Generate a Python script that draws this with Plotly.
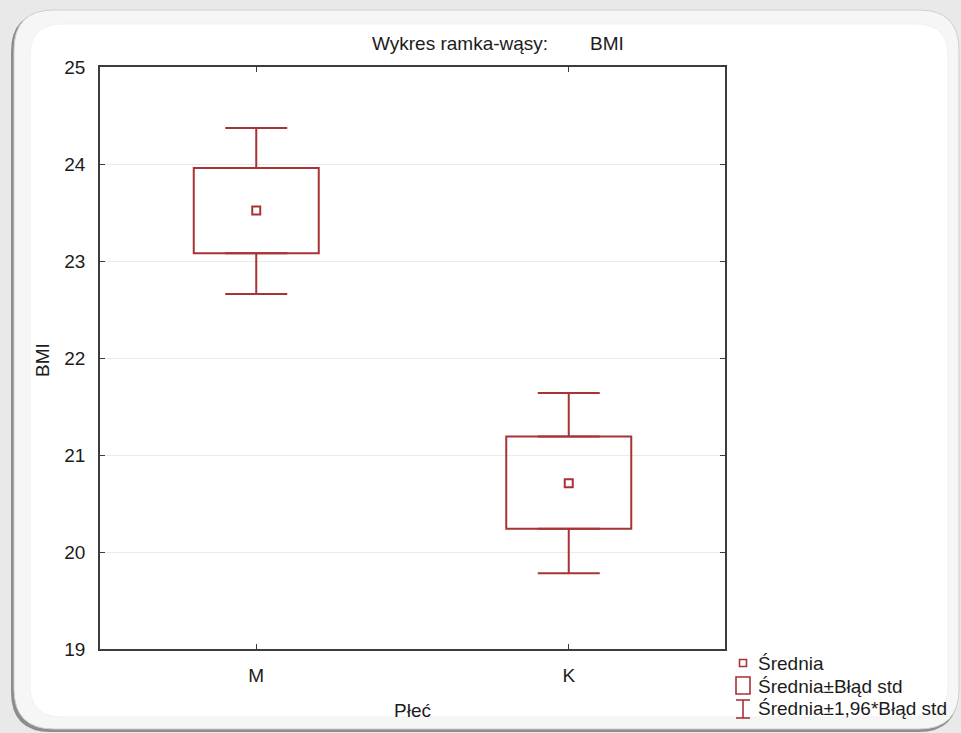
import plotly.graph_objects as go

# ---- data ----
categories = ["M", "K"]
means = [23.52, 20.71]
se_low = [23.08, 20.24]
se_high = [23.96, 21.19]
ci_low = [22.66, 19.78]
ci_high = [24.37, 21.64]
y_ticks = [19, 20, 21, 22, 23, 24, 25]
legend_labels = ["Średnia", "Średnia±Błąd std", "Średnia±1,96*Błąd std"]

RED = "#a83236"
TXT = "#1c1c1c"
FONT = "Arial, Liberation Sans, sans-serif"

W, H = 961, 733
L, R, T, B = 100, 236, 67, 84
PW, PH = W - L - R, H - T - B


def px(x):
    return (x - L) / PW


def py(y):
    return (H - B - y) / PH


xs = list(range(len(categories)))

fig = go.Figure()

# box: mean ± standard error
fig.add_trace(go.Bar(
    x=xs, base=se_low, y=[h - l for h, l in zip(se_high, se_low)],
    width=0.4, marker=dict(color="rgba(0,0,0,0)", line=dict(color=RED, width=2)),
    showlegend=False, hoverinfo="skip"))

# whiskers: mean ± 1.96*SE
fig.add_trace(go.Scatter(
    x=xs, y=se_high, mode="markers", marker=dict(size=1, opacity=0),
    error_y=dict(type="data", symmetric=False,
                 array=[c - s for c, s in zip(ci_high, se_high)],
                 arrayminus=[0] * len(xs), color=RED, thickness=2, width=31),
    showlegend=False, hoverinfo="skip"))
fig.add_trace(go.Scatter(
    x=xs, y=se_low, mode="markers", marker=dict(size=1, opacity=0),
    error_y=dict(type="data", symmetric=False, array=[0] * len(xs),
                 arrayminus=[s - c for s, c in zip(se_low, ci_low)],
                 color=RED, thickness=2, width=31),
    showlegend=False, hoverinfo="skip"))

# means
fig.add_trace(go.Scatter(
    x=xs, y=means, mode="markers",
    marker=dict(symbol="square-open", size=8, color=RED, line=dict(width=2, color=RED)),
    showlegend=False))


def rrect(x0, y0, x1, y1, r):
    pts = [
        ("M", [(x0 + r, y0)]), ("L", [(x1 - r, y0)]), ("Q", [(x1, y0), (x1, y0 + r)]),
        ("L", [(x1, y1 - r)]), ("Q", [(x1, y1), (x1 - r, y1)]),
        ("L", [(x0 + r, y1)]), ("Q", [(x0, y1), (x0, y1 - r)]),
        ("L", [(x0, y0 + r)]), ("Q", [(x0, y0), (x0 + r, y0)]),
    ]
    s = ""
    for cmd, ps in pts:
        s += cmd + " " + " ".join(f"{px(a):.5f},{py(b):.5f}" for a, b in ps) + " "
    return s + "Z"


shapes = [
    # frame shadow and frame
    dict(type="path", path=rrect(11, 12, 958, 732, 40), xref="paper", yref="paper",
         fillcolor="#8c8c8c", line=dict(width=0), layer="below"),
    dict(type="path", path=rrect(14, 10, 959, 729, 40), xref="paper", yref="paper",
         fillcolor="#f6f6f6", line=dict(color="#cfcfcf", width=1), layer="below"),
    dict(type="path", path=rrect(30, 24, 948, 717, 32), xref="paper", yref="paper",
         fillcolor="#ffffff", line=dict(color="#f1f1f1", width=1), layer="below"),
]

# legend icons
shapes += [
    dict(type="rect", x0=px(739.5), x1=px(746.5), y0=py(659.5), y1=py(666.5), xref="paper", yref="paper",
         line=dict(color=RED, width=1.6)),
    dict(type="rect", x0=px(736), x1=px(750), y0=py(677), y1=py(694), xref="paper", yref="paper",
         line=dict(color=RED, width=1.6)),
    dict(type="line", x0=px(743), x1=px(743), y0=py(700), y1=py(718), xref="paper", yref="paper",
         line=dict(color=RED, width=1.6)),
    dict(type="line", x0=px(736), x1=px(750), y0=py(700), y1=py(700), xref="paper", yref="paper",
         line=dict(color=RED, width=1.6)),
    dict(type="line", x0=px(736), x1=px(750), y0=py(718), y1=py(718), xref="paper", yref="paper",
         line=dict(color=RED, width=1.6)),
]

annotations = []
for lab, yy in zip(legend_labels, [663, 686, 708]):
    annotations.append(dict(text=lab, x=px(756), y=py(yy), xref="paper", yref="paper",
                            xanchor="left", yanchor="middle", showarrow=False,
                            font=dict(size=19, color=TXT, family=FONT)))

annotations += [
    dict(text="Wykres ramka-wąsy:", x=px(460), y=py(44), xref="paper", yref="paper",
         xanchor="center", yanchor="middle", showarrow=False, font=dict(size=19, color=TXT, family=FONT)),
    dict(text="BMI", x=px(607), y=py(44), xref="paper", yref="paper",
         xanchor="center", yanchor="middle", showarrow=False, font=dict(size=19, color=TXT, family=FONT)),
    dict(text="Płeć", x=px(412), y=py(710), xref="paper", yref="paper",
         xanchor="center", yanchor="middle", showarrow=False, font=dict(size=19, color=TXT, family=FONT)),
    dict(text="BMI", x=px(42), y=py(360), xref="paper", yref="paper", textangle=-90,
         xanchor="center", yanchor="middle", showarrow=False, font=dict(size=19, color=TXT, family=FONT)),
]

fig.update_layout(
    width=W, height=H, margin=dict(l=L, r=R, t=T, b=B, pad=0),
    paper_bgcolor="#e9e9e9", plot_bgcolor="rgba(0,0,0,0)",
    shapes=shapes, annotations=annotations, showlegend=False,
    font=dict(family=FONT, color=TXT, size=19),
    xaxis=dict(range=[-0.5, 1.5], tickvals=xs, ticktext=categories,
               showgrid=False, zeroline=False, showline=True, linecolor="#3c3c3c", linewidth=1.5,
               mirror="ticks", ticks="inside", ticklen=5, tickcolor="#3c3c3c",
               ticklabelstandoff=8, tickfont=dict(size=19, color=TXT)),
    yaxis=dict(range=[19, 25], tickvals=y_ticks, showgrid=True, gridcolor="#ebebeb", gridwidth=1,
               zeroline=False, showline=True, linecolor="#3c3c3c", linewidth=1.5,
               mirror="ticks", ticks="inside", ticklen=5, tickcolor="#3c3c3c",
               ticklabelstandoff=9, tickfont=dict(size=19, color=TXT)),
)

fig.write_html("out.html", config=dict(displayModeBar=False))
